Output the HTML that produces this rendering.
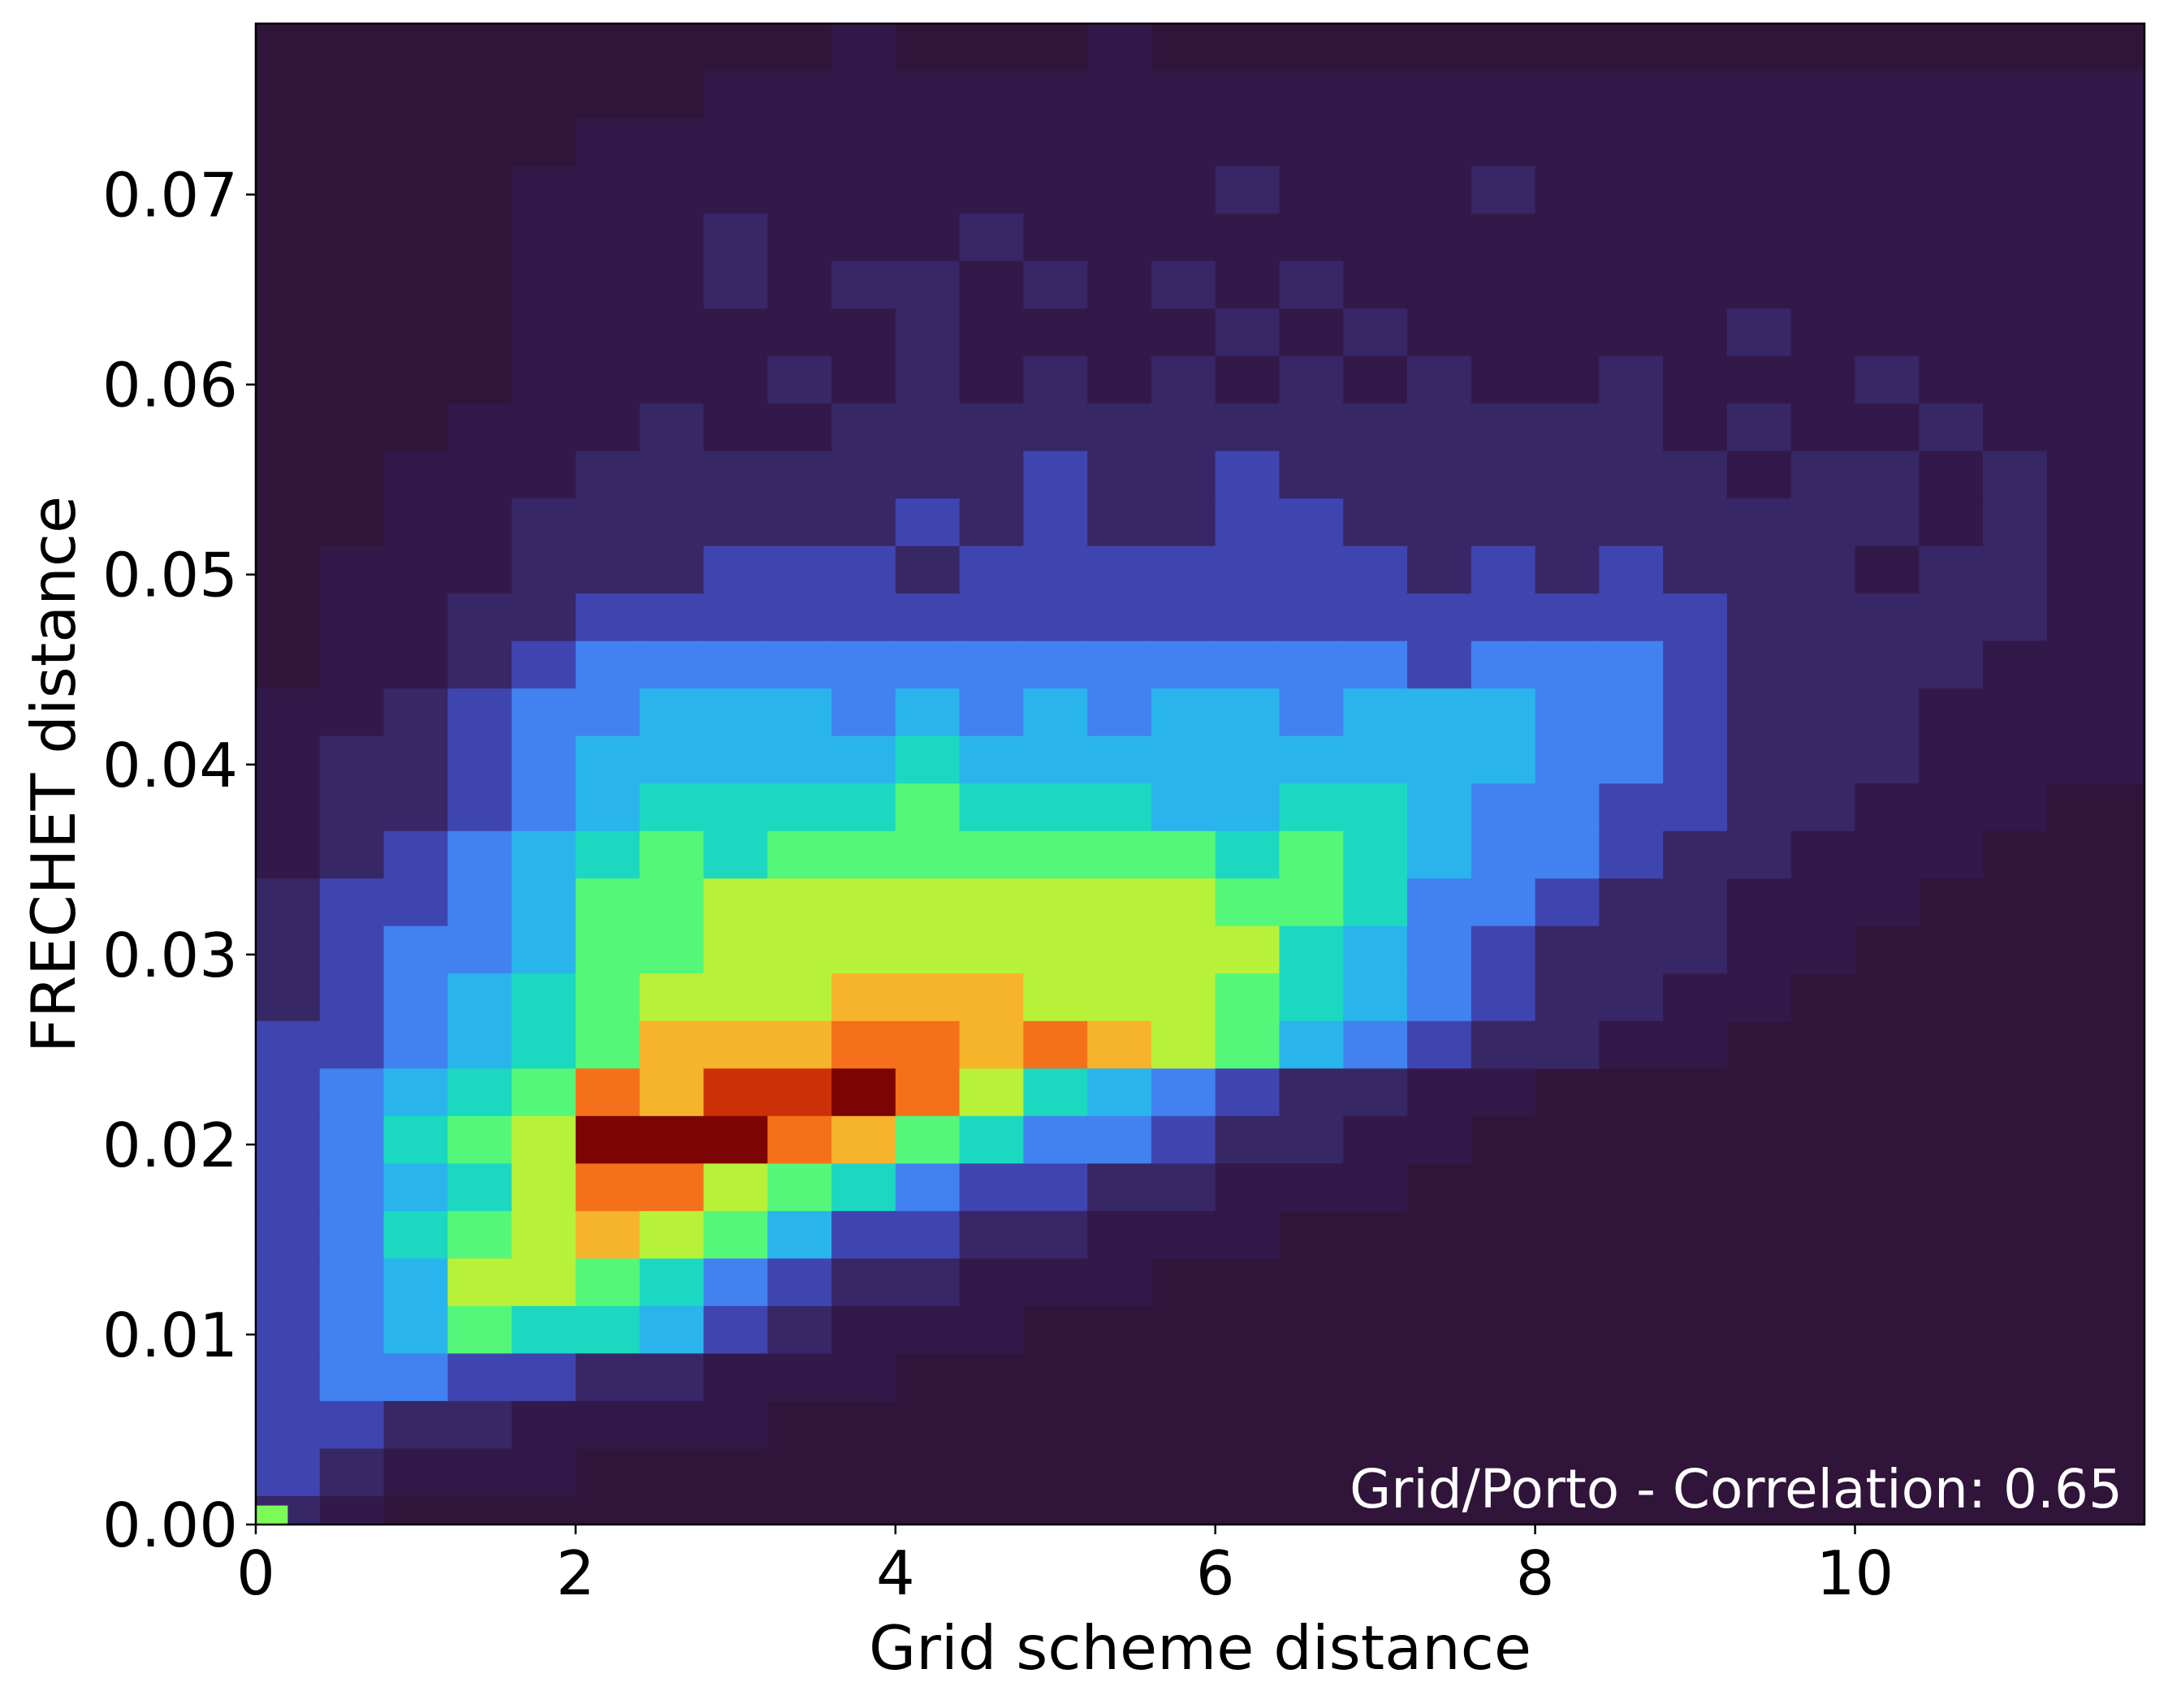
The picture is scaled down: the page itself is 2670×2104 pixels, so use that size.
<!DOCTYPE html>
<html><head><meta charset="utf-8"><style>
html,body{margin:0;padding:0;background:#fff;}
svg text{font-family:"DejaVu Sans","Liberation Sans",sans-serif;}
</style></head><body>
<svg id="chart" width="2670" height="2099" xmlns="http://www.w3.org/2000/svg">
<rect width="2670" height="2099" fill="#fff"/>
<g id="cells"></g>
<g id="axes"></g>
</svg>
<script>
const xTicks=[0,2,4,6,8,10];
const yTicks=[0,0.01,0.02,0.03,0.04,0.05,0.06,0.07];
const yTickLabels=["0.00","0.01","0.02","0.03","0.04","0.05","0.06","0.07"];
const xBinWidth=0.4;
const yBinHeight=0.0025;
const yTop=0.079;
// density levels (0-c), rows from top (y=0.079) downward, columns from x=0
const densityRows=[
"000000000100010000000000000000",
"000000011111111111111111111111",
"000001111111111111111111111111",
"000011111111111211121111111111",
"000011121112111111111111111111",
"000011121221212121111111111111",
"000011111121111212111112111111",
"000011112121212121211211121111",
"000111211222222222222212112111",
"001112222222322322222221221211",
"001122222232322332222222221211",
"011122233323333333232322212211",
"011223333333333333333332222211",
"011234444444444444344432222111",
"112344555454545545554432221111",
"122345555565555555554432221111",
"122345666676665566544332211100",
"123456767777777676544322111000",
"233457788888888776443221110000",
"234457788888888865432221100000",
"234567888999888765432211000000",
"334567999aa9a98754322110000000",
"34567a9bbca8654322110000000000",
"34678ccca976443221100000000000",
"34568aa87643322111000000000000",
"346789875332211100000000000000",
"345887643221110000000000000000",
"345766532111000000000000000000",
"344332211100000000000000000000",
"332211110000000000000000000000",
"321110000000000000000000000000",
"210000000000000000000000000000"
];
const hotspotX=[0,0.2];
const hotspotY=[0,0.001];
const palette={"0":"#30143a","1":"#33194a","2":"#382766","3":"#3f45b0","4":"#4282f0","5":"#2ab4ec","6":"#1cd8c0","7":"#55f77a","8":"#b8f238","9":"#f6b42c","a":"#f4701a","b":"#cc3006","c":"#7c0402"};
const L=315,R=2641,T=29,B=1878;
const xMax=11.81;
function sx(v){return L+v*(R-L)/xMax;}
function sy(v){return B-(v/yTop)*(B-T);}
const NS="http://www.w3.org/2000/svg";
const cells=document.getElementById('cells');
const axes=document.getElementById('axes');
function mk(tag,attrs,parent){const e=document.createElementNS(NS,tag);for(const k in attrs)e.setAttribute(k,attrs[k]);parent.appendChild(e);return e;}
mk('rect',{x:L,y:T,width:R-L,height:B-T,fill:palette["0"]},cells);
densityRows.forEach((row,ri)=>{
  const y1=yTop-ri*yBinHeight, y0=Math.max(0,y1-yBinHeight);
  for(let ci=0;ci<row.length;ci++){
    const ch=row[ci]; if(ch==="0")continue;
    const x0=ci*xBinWidth, x1=Math.min(xMax,x0+xBinWidth);
    if(x0>=xMax)continue;
    const r=mk('rect',{x:sx(x0),y:sy(y1),width:sx(x1)-sx(x0)+0.5,height:sy(y0)-sy(y1)+0.5,fill:palette[ch]},cells);
    
    
  }
});
const hs=mk('rect',{x:sx(hotspotX[0]),y:sy(hotspotY[1]),width:sx(hotspotX[1])-sx(hotspotX[0]),height:sy(hotspotY[0])-sy(hotspotY[1]),fill:"#7cfb58"},cells);


const fr=mk('rect',{x:L,y:T,width:R-L,height:B-T,fill:"none",stroke:"#000","stroke-width":2.5},axes);


xTicks.forEach(v=>{
  mk('line',{x1:sx(v),x2:sx(v),y1:B,y2:B+12,stroke:"#000","stroke-width":2.5},axes);
  const t=mk('text',{x:sx(v),y:1964,"font-size":75,"text-anchor":"middle",fill:"#000"},axes);
  t.textContent=String(v);
  
  
});
yTicks.forEach((v,i)=>{
  mk('line',{x1:L-12,x2:L,y1:sy(v),y2:sy(v),stroke:"#000","stroke-width":2.5},axes);
  const t=mk('text',{x:L-22,y:sy(v)+27,"font-size":75,"text-anchor":"end",fill:"#000"},axes);
  t.textContent=yTickLabels[i];
  
  
});
const xt=mk('text',{x:1478,y:2056,"font-size":75,"text-anchor":"middle",fill:"#000"},axes);
xt.textContent="Grid scheme distance";


const yt=mk('text',{x:0,y:0,"font-size":75,"text-anchor":"middle",fill:"#000",transform:"translate(92,954) rotate(-90)"},axes);
yt.textContent="FRECHET distance";


const an=mk('text',{x:2614,y:1857,"font-size":66,"text-anchor":"end",fill:"#fff"},axes);
an.textContent="Grid/Porto - Correlation: 0.65";


</script>
</body></html>
